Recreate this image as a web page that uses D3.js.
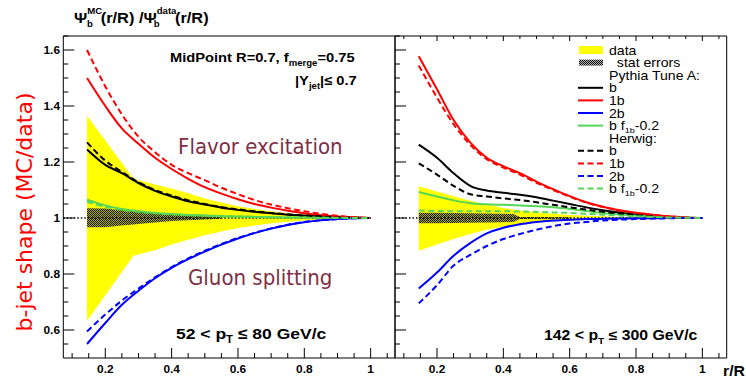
<!DOCTYPE html>
<html><head><meta charset="utf-8">
<script src="https://cdn.jsdelivr.net/npm/d3@7"></script>
<style>body{margin:0;background:#fff}svg{display:block}</style>
</head><body>
<script>
// ---------- DATA ----------
const r = [0.145,0.2,0.25,0.3,0.35,0.4,0.45,0.5,0.55,0.6,0.65,0.7,0.75,0.8,0.85,0.9,0.95,1.0];

// left panel: 52 < pT <= 80
const L_pyB   = [1.245,1.19,1.16,1.125,1.097,1.077,1.06,1.048,1.037,1.029,1.022,1.017,1.012,1.009,1.006,1.003,1.001,1.0];
const L_py1b  = [1.50,1.40,1.32,1.265,1.215,1.175,1.14,1.11,1.087,1.067,1.05,1.037,1.026,1.017,1.01,1.005,1.002,1.0];
const L_py2b  = [0.55,0.625,0.69,0.74,0.785,0.822,0.853,0.88,0.905,0.927,0.946,0.962,0.975,0.985,0.992,0.996,0.999,1.0];
const L_pyG   = [1.065,1.045,1.032,1.024,1.018,1.014,1.011,1.009,1.007,1.005,1.004,1.003,1.002,1.002,1.001,1.001,1.0,1.0];
const L_hwB   = [1.27,1.205,1.165,1.128,1.1,1.08,1.063,1.05,1.039,1.031,1.024,1.018,1.013,1.009,1.006,1.003,1.001,1.0];
const L_hw1b  = [1.60,1.47,1.37,1.29,1.235,1.19,1.16,1.135,1.108,1.085,1.064,1.048,1.035,1.024,1.015,1.008,1.003,1.0];
const L_hw2b  = [0.595,0.655,0.705,0.748,0.788,0.825,0.856,0.883,0.907,0.929,0.947,0.963,0.976,0.986,0.992,0.996,0.999,1.0];
const L_hwG   = [1.058,1.04,1.029,1.022,1.017,1.013,1.01,1.008,1.006,1.005,1.004,1.003,1.002,1.001,1.001,1.0,1.0,1.0];

// right panel: 142 < pT <= 300
const R_pyB   = [1.262,1.215,1.16,1.115,1.098,1.09,1.083,1.074,1.062,1.05,1.038,1.028,1.02,1.013,1.008,1.004,1.001,1.0];
const R_py1b  = [1.578,1.46,1.35,1.27,1.215,1.185,1.16,1.13,1.103,1.078,1.056,1.04,1.028,1.019,1.012,1.006,1.002,1.0];
const R_py2b  = [0.748,0.805,0.865,0.91,0.945,0.965,0.978,0.986,0.991,0.994,0.996,0.997,0.998,0.999,0.999,1.0,1.0,1.0];
const R_pyG   = [1.093,1.077,1.063,1.053,1.049,1.047,1.045,1.042,1.038,1.032,1.025,1.018,1.013,1.008,1.005,1.002,1.001,1.0];
const R_hwB   = [1.195,1.155,1.115,1.085,1.077,1.07,1.064,1.056,1.047,1.038,1.03,1.022,1.016,1.011,1.007,1.003,1.001,1.0];
const R_hw1b  = [1.545,1.43,1.335,1.262,1.21,1.18,1.155,1.126,1.1,1.076,1.055,1.039,1.027,1.018,1.011,1.006,1.002,1.0];
const R_hw2b  = [0.695,0.76,0.83,0.868,0.9,0.925,0.943,0.958,0.971,0.98,0.986,0.991,0.994,0.996,0.998,0.999,1.0,1.0];
const R_hwG   = [1.027,1.025,1.024,1.024,1.024,1.024,1.023,1.022,1.02,1.018,1.015,1.012,1.009,1.006,1.004,1.002,1.001,1.0];

// data systematic band (yellow)
const L_sysR  = [0.145,0.285,0.35,0.4,0.45,0.5,0.55,0.6,0.65,0.7,0.75,0.8,0.85,0.9,0.95,1.0];
const L_sysHi = [1.365,1.14,1.12,1.105,1.088,1.07,1.055,1.042,1.032,1.024,1.017,1.011,1.007,1.004,1.002,1.0];
const L_sysLo = [0.633,0.865,0.885,0.905,0.922,0.938,0.952,0.964,0.973,0.981,0.987,0.992,0.995,0.997,0.999,1.0];
const R_sysR  = [0.145,0.2,0.25,0.3,0.35,0.4,0.45,0.5,0.55,0.6,0.65,0.7,0.75,0.8,0.9,1.0];
const R_sysHi = [1.113,1.095,1.078,1.062,1.048,1.036,1.027,1.02,1.015,1.011,1.008,1.006,1.004,1.003,1.001,1.0];
const R_sysLo = [0.883,0.905,0.925,0.943,0.958,0.97,0.978,0.984,0.988,0.991,0.993,0.995,0.996,0.997,0.999,1.0];

// statistical error band (hatched)
const L_statR  = [0.145,0.2,0.25,0.3,0.35,0.4,0.45,0.5,0.55];
const L_statHi = [1.035,1.034,1.028,1.022,1.018,1.012,1.009,1.006,1.003];
const L_statLo = [0.967,0.967,0.973,0.979,0.984,0.989,0.992,0.995,0.997];
const R_statR  = [0.145,0.2,0.25,0.3,0.35,0.4,0.43,0.45,0.6];
const R_statHi = [1.019,1.019,1.018,1.017,1.016,1.015,1.014,1.004,1.003];
const R_statLo = [0.981,0.981,0.982,0.983,0.984,0.985,0.986,0.996,0.997];

const yTicks = [0.6,0.8,1.0,1.2,1.4,1.6];
const yTickLabels = ["0.6","0.8","1","1.2","1.4","1.6"];
const xTicks = [0.2,0.4,0.6,0.8,1.0];
const xTickLabels = ["0.2","0.4","0.6","0.8","1"];

const legendItems = [
  {label:"data", kind:"box"},
  {label:"  stat errors", kind:"hatch"},
  {label:"Pythia Tune A:", kind:"none"},
  {label:"b", kind:"line", color:"#000", dash:null},
  {label:"1b", kind:"line", color:"#ff0000", dash:null},
  {label:"2b", kind:"line", color:"#0000ff", dash:null},
  {label:"b f1b-0.2", kind:"line", color:"#55d655", dash:null, sub:true},
  {label:"Herwig:", kind:"none"},
  {label:"b", kind:"line", color:"#000", dash:"6,3.5"},
  {label:"1b", kind:"line", color:"#ff0000", dash:"6,3.5"},
  {label:"2b", kind:"line", color:"#0000ff", dash:"6,3.5"},
  {label:"b f1b-0.2", kind:"line", color:"#55d655", dash:"6,3.5", sub:true}
];

// ---------- DRAW ----------
const W = 746, H = 379;
const SX = 1.13; // horizontal stretch of ROOT text
const svg = d3.select("body").append("svg").attr("width", W).attr("height", H);
const defs = svg.append("defs");
const pat = defs.append("pattern").attr("id","hatch").attr("patternUnits","userSpaceOnUse")
  .attr("width",2).attr("height",2);
pat.append("rect").attr("x",0).attr("y",0).attr("width",2).attr("height",2).attr("fill","rgba(0,0,0,0.3)");
pat.append("rect").attr("x",0).attr("y",0).attr("width",1).attr("height",1).attr("fill","#111");
pat.append("rect").attr("x",1).attr("y",1).attr("width",1).attr("height",1).attr("fill","#111");

const yTop = 36, yBot = 358;
const y = d3.scaleLinear().domain([0.5,1.65]).range([yBot, yTop]);
const panels = [
  {x0:63.3, x1:395, series:[L_pyB,L_py1b,L_py2b,L_pyG,L_hwB,L_hw1b,L_hw2b,L_hwG],
   sys:[L_sysR,L_sysHi,L_sysLo], stat:[L_statR,L_statHi,L_statLo]},
  {x0:395, x1:726.7, series:[R_pyB,R_py1b,R_py2b,R_pyG,R_hwB,R_hw1b,R_hw2b,R_hwG],
   sys:[R_sysR,R_sysHi,R_sysLo], stat:[R_statR,R_statHi,R_statLo]}
];
const colors = ["#000","#ff0000","#0000ff","#55d655","#000","#ff0000","#0000ff","#55d655"];
const boldFont = "'Liberation Sans', Arial, sans-serif";

function rootText(x, yy, size, bold, anchor) {
  return svg.append("text").attr("transform", `translate(${x},${yy}) scale(${SX},1)`)
    .attr("font-family", boldFont).attr("font-weight", bold ? "bold" : "normal")
    .attr("font-size", size).attr("text-anchor", anchor || "start");
}

panels.forEach((p, pi) => {
  const x = d3.scaleLinear().domain([0.0734,1.0734]).range([p.x0, p.x1]);
  const g = svg.append("g");
  const area = d3.area().x(d=>x(d[0])).y0(d=>y(d[2])).y1(d=>y(d[1]));
  const sysData = p.sys[0].map((v,i)=>[v,p.sys[1][i],p.sys[2][i]]);
  g.append("path").attr("d", area(sysData)).attr("fill","#ffff00");
  const statData = p.stat[0].map((v,i)=>[v,p.stat[1][i],p.stat[2][i]]);
  g.append("path").attr("d", area(statData)).attr("fill","url(#hatch)");
  g.append("line").attr("x1",p.x0).attr("x2",x(1.0)).attr("y1",y(1)).attr("y2",y(1))
    .attr("stroke","#000").attr("stroke-width",1.6).attr("stroke-dasharray","1.5,2");
  const line = d3.line().x((d,i)=>x(r[i])).y(d=>y(d)).curve(d3.curveMonotoneX);
  p.series.forEach((s, si) => {
    g.append("path").attr("d", line(s)).attr("fill","none")
      .attr("stroke", colors[si]).attr("stroke-width", 2)
      .attr("stroke-dasharray", si >= 4 ? "6,3.5" : null);
  });
  const ax = svg.append("g").attr("stroke","#000").attr("stroke-width",1);
  const minorX = d3.range(0.1, 1.07, 0.05);
  minorX.forEach(v => {
    const isMajor = Math.abs(Math.round(v*5)-v*5) < 1e-6;
    ax.append("line").attr("x1",x(v)).attr("x2",x(v)).attr("y1",yBot).attr("y2",yBot-(isMajor?10:5));
    if (pi === 1) ax.append("line").attr("x1",x(v)).attr("x2",x(v)).attr("y1",yTop).attr("y2",yTop+(isMajor?5:3));
  });
  const minorY = d3.range(0.55, 1.66, 0.05);
  minorY.forEach(v => {
    const isMajor = Math.abs(Math.round(v*5)-v*5) < 1e-6;
    ax.append("line").attr("x1",p.x0).attr("x2",p.x0+(isMajor?11:5)).attr("y1",y(v)).attr("y2",y(v));
  });
  ax.append("line").attr("x1",p.x0).attr("x2",p.x1).attr("y1",yBot).attr("y2",yBot);
  ax.append("line").attr("x1",p.x0).attr("x2",p.x1).attr("y1",yTop).attr("y2",yTop);
  ax.append("line").attr("x1",p.x0).attr("x2",p.x0).attr("y1",yTop).attr("y2",yBot);
  ax.append("line").attr("x1",p.x1).attr("x2",p.x1).attr("y1",yTop).attr("y2",yBot);
  xTicks.forEach((v,i) => {
    rootText(x(v), 373, 10.5, true, "middle").text(xTickLabels[i]);
  });
});

yTicks.forEach((v,i)=>{
  rootText(60, y(v)+3.8, 10.5, true, "end").text(yTickLabels[i]);
});

svg.append("text").attr("transform","translate(32,212) rotate(-90)").attr("text-anchor","middle")
  .attr("font-family","'DejaVu Sans', sans-serif").attr("font-size",22).attr("fill","#ff0000")
  .text("b-jet shape (MC/data)");
rootText(745, 376, 14, true, "end").text("r/R");

// title: Ψ_b^MC(r/R) /Ψ_b^data(r/R)
const tt = rootText(74, 22.5, 14.5, true);
tt.append("tspan").text("Ψ");
tt.append("tspan").attr("font-size",8.5).attr("dy",-8.5).text("MC");
tt.append("tspan").attr("font-size",8.5).attr("dx",-13.5).attr("dy",13).text("b");
tt.append("tspan").attr("dx",7).attr("dy",-4.5).text("(r/R) /Ψ");
tt.append("tspan").attr("font-size",8.5).attr("dy",-8.5).text("data");
tt.append("tspan").attr("font-size",8.5).attr("dx",-20).attr("dy",13).text("b");
tt.append("tspan").attr("dx",13.5).attr("dy",-4.5).text("(r/R)");

const t1 = rootText(170, 61.5, 13, true);
t1.append("tspan").text("MidPoint R=0.7, f");
t1.append("tspan").attr("font-size",8.5).attr("dy",4).text("merge");
t1.append("tspan").attr("dy",-4).text("=0.75");
const t2 = rootText(295, 85, 13, true);
t2.append("tspan").text("|Y");
t2.append("tspan").attr("font-size",8.5).attr("dy",4).text("jet");
t2.append("tspan").attr("dy",-4).text("|≤ 0.7");

svg.append("text").attr("x",178).attr("y",154).attr("font-family","'DejaVu Sans Condensed', 'DejaVu Sans', sans-serif")
  .attr("font-stretch","condensed").attr("font-size",22).attr("fill","#7d2f45").text("Flavor excitation");
svg.append("text").attr("x",188).attr("y",285).attr("font-family","'DejaVu Sans Condensed', 'DejaVu Sans', sans-serif")
  .attr("font-stretch","condensed").attr("font-size",22).attr("fill","#7d2f45").text("Gluon splitting");

function ptText(xp, yp, a, b, fs) {
  const t = rootText(xp, yp, fs, true);
  t.append("tspan").text(a + " < p");
  t.append("tspan").attr("font-size",fs*0.65).attr("dy",4).text("T");
  t.append("tspan").attr("dy",-4).text(" ≤ " + b + " GeV/c");
}
ptText(176, 338.5, "52", "80", 15.5);
ptText(544, 339.5, "142", "300", 14);

const lg = svg.append("g");
legendItems.forEach((it, i) => {
  const cy = 50 + i*12.6;
  if (it.kind === "box") lg.append("rect").attr("x",579).attr("y",cy-4).attr("width",24).attr("height",8).attr("fill","#ffff00");
  if (it.kind === "hatch") lg.append("rect").attr("x",579).attr("y",cy-3).attr("width",24).attr("height",6).attr("fill","url(#hatch)");
  if (it.kind === "line") lg.append("line").attr("x1",578).attr("x2",603).attr("y1",cy).attr("y2",cy)
    .attr("stroke",it.color).attr("stroke-width",2).attr("stroke-dasharray",it.dash);
  const t = rootText(609, cy+4.5, 12.5, false).style("white-space","pre");
  if (it.sub) {
    t.append("tspan").text("b f");
    t.append("tspan").attr("font-size",8).attr("dy",2.5).text("1b");
    t.append("tspan").attr("dy",-2.5).text("-0.2");
  } else t.text(it.label);
});
</script>
</body></html>
